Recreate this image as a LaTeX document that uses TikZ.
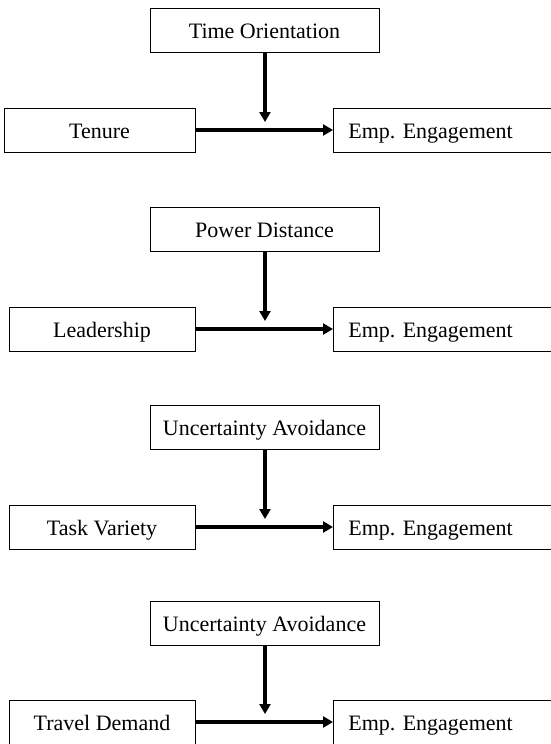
\documentclass[tikz,border=0pt]{standalone}
\usepackage{fontspec}
\setmainfont{Liberation Serif}
\usetikzlibrary{arrows.meta}
\frenchspacing
\begin{document}
\begin{tikzpicture}[x=1pt,y=-1pt]
    \tikzstyle{box}=[draw=black, line width=0.8pt, minimum height=44pt, inner sep=2pt, text height=18pt, text depth=2pt, font=\fontsize{22}{26}\selectfont]
    \tikzstyle{outbox}=[box, text width=197pt, align=left, inner xsep=15pt]
    \tikzstyle{arr}=[line width=3.5pt, -{Triangle[length=10pt,width=11pt]}]
    \useasboundingbox (0,0) rectangle (550,744);
    % time orientation
    \node[box, minimum width=229pt] (m1) at (264.5,30){Time Orientation};
    \node[box, minimum width=191pt] (x1) at (99.5,130){Tenure};
    \node[outbox, anchor=west] (y1) at (333,130){Emp. Engagement};
    \coordinate (t1) at (265,122);
    \draw[arr] (x1) -- (y1);
    \draw[arr] (m1.south -| t1) -- (t1);
    % power distance
    \node[box, minimum width=229pt] (m2) at (264.5,229.5){Power Distance};
    \node[box, minimum width=186pt] (x2) at (102,329){Leadership};
    \node[outbox, anchor=west] (y2) at (333,329){Emp. Engagement};
    \coordinate (t2) at (265,321);
    \draw[arr] (x2) -- (y2);
    \draw[arr] (m2.south -| t2) -- (t2);
    % uncertainty avoidance
    \node[box, minimum width=229pt] (m3) at (264.5,427.5){Uncertainty Avoidance};
    \node[box, minimum width=186pt] (x3) at (102,527){Task Variety};
    \node[outbox, anchor=west] (y3) at (333,527){Emp. Engagement};
    \coordinate (t3) at (265,519);
    \draw[arr] (x3) -- (y3);
    \draw[arr] (m3.south -| t3) -- (t3);
    % uncertainty avoidance, travel
    \node[box, minimum width=229pt] (m4) at (264.5,623.5){Uncertainty Avoidance};
    \node[box, minimum width=186pt] (x4) at (102,722){Travel Demand};
    \node[outbox, anchor=west] (y4) at (333,722){Emp. Engagement};
    \coordinate (t4) at (265,714);
    \draw[arr] (x4) -- (y4);
    \draw[arr] (m4.south -| t4) -- (t4);
  \end{tikzpicture}
\end{document}
